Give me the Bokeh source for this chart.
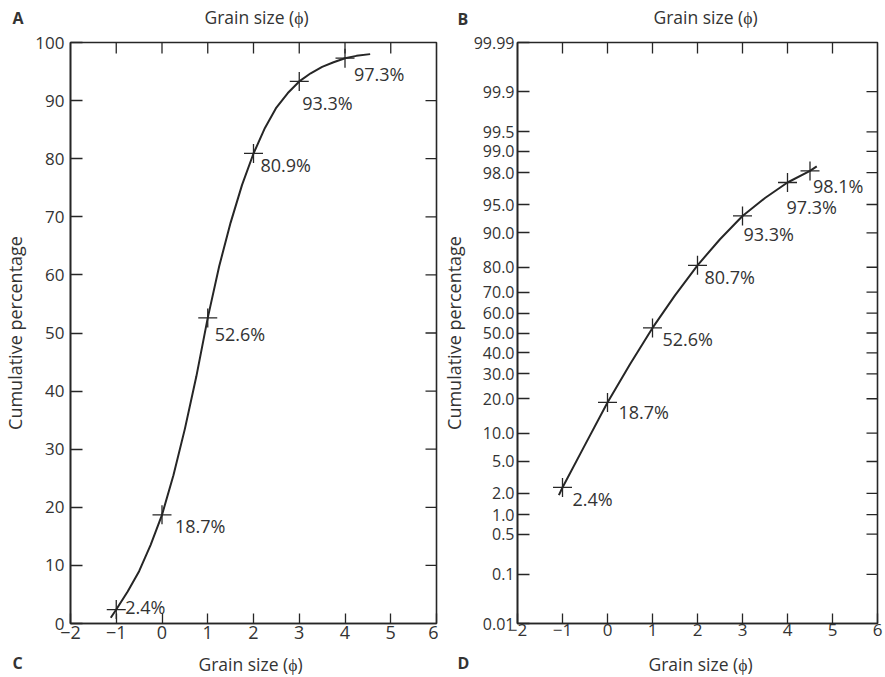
import math
from statistics import NormalDist
from bokeh.plotting import figure
from bokeh.models import FixedTicker, Range1d, ColumnDataSource
from bokeh.layouts import row, column
from bokeh.embed import file_html
from bokeh.resources import INLINE
from bokeh.core.properties import value

# ---------------- data ----------------
x_ticks = [-2, -1, 0, 1, 2, 3, 4, 5, 6]

# Panel A / C : arithmetic (linear) ordinate
phi_a = [-1, 0, 1, 2, 3, 4]
cum_a = [2.4, 18.7, 52.6, 80.9, 93.3, 97.3]
lab_a = ["2.4%", "18.7%", "52.6%", "80.9%", "93.3%", "97.3%"]
curve_phi_a = [-1.12, -1.0, -0.75, -0.5, -0.25, 0.0, 0.25, 0.5, 0.75, 1.0, 1.25, 1.5,
               1.75, 2.0, 2.25, 2.5, 2.75, 3.0, 3.25, 3.5, 3.75, 4.0, 4.25, 4.55]
curve_cum_a = [1.0, 2.4, 5.5, 9.0, 13.5, 18.7, 25.5, 33.5, 42.5, 52.6, 61.5, 69.0,
               75.5, 80.9, 85.3, 88.8, 91.3, 93.3, 94.7, 95.8, 96.6, 97.3, 97.7, 98.0]
y_ticks_a = [0, 10, 20, 30, 40, 50, 60, 70, 80, 90, 100]

# Panel B / D : probability ordinate
phi_b = [-1, 0, 1, 2, 3, 4, 4.5]
cum_b = [2.4, 18.7, 52.6, 80.7, 93.3, 97.3, 98.1]
lab_b = ["2.4%", "18.7%", "52.6%", "80.7%", "93.3%", "97.3%", "98.1%"]
curve_phi_b = [-1.08, -1.0, -0.5, 0.0, 0.5, 1.0, 1.5, 2.0, 2.5, 3.0, 3.5, 4.0, 4.5, 4.65]
curve_cum_b = [1.9, 2.4, 7.6, 18.7, 34.5, 52.6, 68.5, 80.7, 88.5, 93.3, 95.8, 97.3, 98.1, 98.35]
y_ticks_b = [0.01, 0.1, 0.5, 1.0, 2.0, 5.0, 10.0, 20.0, 30.0, 40.0, 50.0, 60.0, 70.0,
             80.0, 90.0, 95.0, 98.0, 99.0, 99.5, 99.9, 99.99]
y_tick_labels_b = ["0.01", "0.1", "0.5", "1.0", "2.0", "5.0", "10.0", "20.0", "30.0", "40.0",
                   "50.0", "60.0", "70.0", "80.0", "90.0", "95.0", "98.0", "99.0", "99.5",
                   "99.9", "99.99"]

# ---------------- style ----------------
INK = "#262626"
TXT = "#333333"
FONT = "Open Sans"
XLABEL = "Grain size (\u03d5)"
YLABEL = "Cumulative percentage"

# label placement (screen pixel offsets from each cross)
dx_a = [9, 13, 7, 7, 3, 9]
dy_a = [-3, 11, 16, 12, 22, 16]
dx_b = [10, 11, 10, 7, 1, -1, 3]
dy_b = [12, 10, 11, 12, 18, 25, 15]

norm = NormalDist()


def probit(p):
    return norm.inv_cdf(p / 100.0)


def style_axis(ax, size, ticklen, standoff):
    ax.axis_line_color = INK
    ax.axis_line_width = 1.6
    ax.major_tick_in = ticklen
    ax.major_tick_out = 0
    ax.major_tick_line_color = INK
    ax.major_tick_line_width = 1.3
    ax.minor_tick_line_color = None
    ax.major_label_text_font = FONT
    ax.major_label_text_font_size = size
    ax.major_label_text_color = TXT
    ax.major_label_standoff = standoff
    ax.axis_label_text_font = FONT
    ax.axis_label_text_font_size = "18px"
    ax.axis_label_text_font_style = "normal"
    ax.axis_label_text_color = TXT


def inner_ticks(p, xs, ys, vertical):
    # short tick marks on the top / right frame edges (half of each dash is clipped by the frame)
    p.scatter(xs, ys, marker="dash", size=22, angle=(math.pi / 2 if vertical else 0.0),
              line_color=INK, line_width=1.3)


def panel(width, height, yr, b_left, b_right, b_top, b_bottom):
    p = figure(width=width, height=height, x_range=Range1d(-2, 6), y_range=yr,
               output_backend="svg", toolbar_location=None,
               min_border_left=b_left, min_border_right=b_right,
               min_border_top=b_top, min_border_bottom=b_bottom,
               background_fill_color="white", border_fill_color="white")
    p.grid.visible = False
    p.outline_line_color = INK
    p.outline_line_width = 1.6
    p.xaxis.ticker = FixedTicker(ticks=x_ticks)
    return p


def strip(height, letters, letter_x, letter_y, title_x, title_y):
    s = figure(width=885, height=height, x_range=Range1d(0, 885), y_range=Range1d(height, 0),
               output_backend="svg", toolbar_location=None, min_border=0,
               x_axis_type=None, y_axis_type=None,
               background_fill_color="white", border_fill_color="white")
    s.grid.visible = False
    s.outline_line_color = None
    s.text(letter_x, letter_y, text=letters, text_font=value(FONT),
           text_font_size=value("16px"), text_font_style="bold", text_color=TXT,
           text_baseline="middle", text_align="left")
    s.text(title_x, title_y, text=[XLABEL, XLABEL], text_font=value(FONT),
           text_font_size=value("17.5px"), text_color=TXT, text_baseline="middle",
           text_align="center")
    return s


TOP_H, BOT_H = 28, 26
MAIN_H = 677 - TOP_H - BOT_H

# ---------------- panel A / C ----------------
pa = panel(438, MAIN_H, Range1d(0, 100), 68, 2, 40 - TOP_H, MAIN_H - (40 - TOP_H) - 583)
pa.yaxis.ticker = FixedTicker(ticks=y_ticks_a)
style_axis(pa.xaxis[0], "18px", 10, 2)
style_axis(pa.yaxis[0], "17px", 12, 6)
pa.yaxis.axis_label = YLABEL
pa.yaxis.axis_label_standoff = 5
inner_ticks(pa, x_ticks[1:-1], [pa.y_range.end] * len(x_ticks[1:-1]), True)
inner_ticks(pa, [pa.x_range.end] * len(y_ticks_a[1:-1]), y_ticks_a[1:-1], False)

pa.line(curve_phi_a, curve_cum_a, line_color=INK, line_width=2)
src_a = ColumnDataSource(dict(x=phi_a, y=cum_a, t=lab_a, dx=dx_a, dy=dy_a))
pa.scatter("x", "y", source=src_a, marker="cross", size=19, line_color=INK, line_width=1.3)
pa.text("x", "y", text="t", x_offset="dx", y_offset="dy", source=src_a,
        text_font=value(FONT), text_font_size="18px", text_color=TXT,
        text_baseline="middle", text_align="left")

# ---------------- panel B / D ----------------
zmax = probit(99.99)
pb = panel(447, MAIN_H, Range1d(-zmax, zmax), 75, 8, 42 - TOP_H, MAIN_H - (42 - TOP_H) - 585)
z_ticks = [round(probit(v), 9) for v in y_ticks_b]
pb.yaxis.ticker = FixedTicker(ticks=z_ticks)
pb.yaxis.major_label_overrides = {z: s for z, s in zip(z_ticks, y_tick_labels_b)}
style_axis(pb.xaxis[0], "17px", 10, 0)
style_axis(pb.yaxis[0], "16px", 12, 3)
pb.yaxis.axis_label = YLABEL
pb.yaxis.axis_label_standoff = 5
inner_ticks(pb, x_ticks[1:-1], [pb.y_range.end] * len(x_ticks[1:-1]), True)
inner_ticks(pb, [pb.x_range.end] * len(z_ticks[1:-1]), z_ticks[1:-1], False)

pb.line(curve_phi_b, [probit(v) for v in curve_cum_b], line_color=INK, line_width=2)
src_b = ColumnDataSource(dict(x=phi_b, y=[probit(v) for v in cum_b], t=lab_b, dx=dx_b, dy=dy_b))
pb.scatter("x", "y", source=src_b, marker="cross", size=19, line_color=INK, line_width=1.3)
pb.text("x", "y", text="t", x_offset="dx", y_offset="dy", source=src_b,
        text_font=value(FONT), text_font_size="18px", text_color=TXT,
        text_baseline="middle", text_align="left")

# ---------------- title strips (panel letters and x-axis titles) ----------------
top = strip(TOP_H, ["A", "B"], [12, 457], [17.5, 18], [256, 705], [16, 16])
bottom = strip(BOT_H, ["C", "D"], [12, 457], [11.5, 11], [250, 700], [12, 12])

layout = column(top, row(pa, pb, spacing=0), bottom, spacing=0)
open("out.html", "w").write(file_html(layout, INLINE))
